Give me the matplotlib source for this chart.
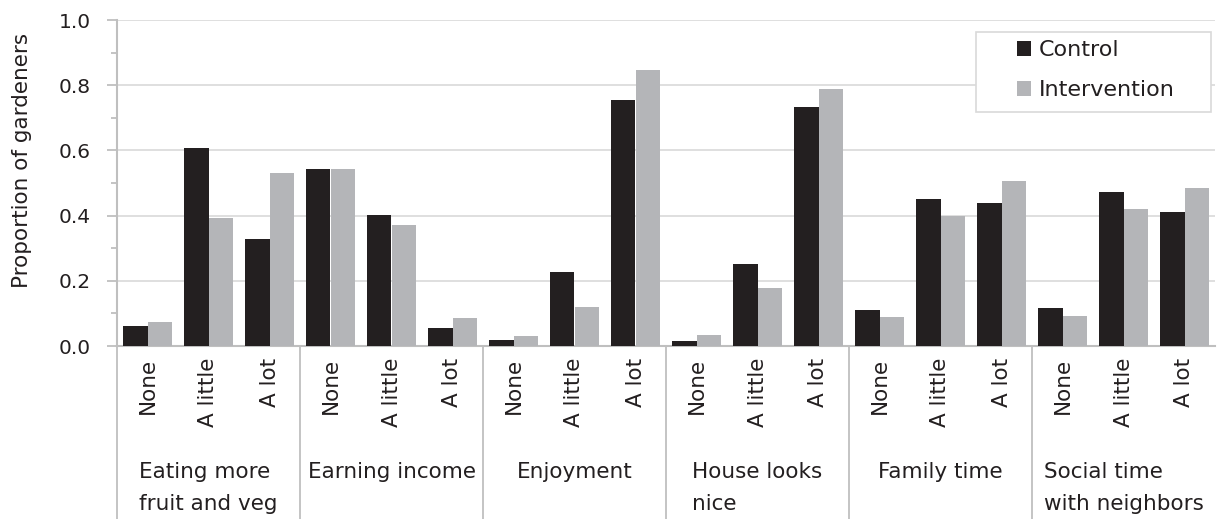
import numpy as np
import matplotlib.pyplot as plt
from matplotlib.ticker import MultipleLocator
from matplotlib.patches import Rectangle

plt.rcParams['font.family'] = ['DejaVu Sans']

groups = ["Eating more\nfruit and veg", "Earning income", "Enjoyment",
          "House looks\nnice", "Family time", "Social time\nwith neighbors"]
levels = ["None", "A little", "A lot"]

control = [0.061, 0.607, 0.328,
           0.542, 0.403, 0.054,
           0.018, 0.226, 0.755,
           0.015, 0.252, 0.733,
           0.110, 0.450, 0.438,
           0.117, 0.472, 0.410]
intervention = [0.074, 0.393, 0.531,
                0.542, 0.372, 0.085,
                0.032, 0.120, 0.848,
                0.033, 0.178, 0.787,
                0.090, 0.400, 0.505,
                0.093, 0.420, 0.485]

dark = "#231f20"
light = "#b4b5b8"
axis_grey = "#bfbfbf"
txt = "#231f20"

W, H = 1218, 519
fig = plt.figure(figsize=(W / 100, H / 100), dpi=100)
ax = fig.add_axes([117 / W, 173 / H, 1098 / W, 326 / H])

x = np.arange(len(control))
w = 0.40
ax.bar(x - w / 2, control, w, color=dark, label="Control", zorder=3)
ax.bar(x + w / 2, intervention, w, color=light, label="Intervention", zorder=3)

ax.set_xlim(-0.5, len(control) - 0.5)
ax.set_ylim(0, 1.0)
ax.yaxis.set_major_locator(MultipleLocator(0.2))
ax.yaxis.set_minor_locator(MultipleLocator(0.1))
ax.yaxis.set_major_formatter(plt.FuncFormatter(lambda v, p: f"{v:.1f}"))
ax.grid(axis='y', color="#d9d9d9", linewidth=1.2, zorder=0)
ax.tick_params(axis='y', which='major', direction='out', length=7,
               color=axis_grey, width=1.3, labelsize=14.5, pad=12, labelcolor=txt)
ax.tick_params(axis='y', which='minor', direction='out', length=4.5,
               color=axis_grey, width=1.3)
ax.set_xticks([])
for s in ['top', 'right']:
    ax.spines[s].set_visible(False)
for s in ['left', 'bottom']:
    ax.spines[s].set_color(axis_grey)
    ax.spines[s].set_linewidth(1.5)

ax.set_ylabel("Proportion of gardeners", fontsize=15.5, color=txt)
ax.yaxis.set_label_coords(-0.077, 0.57)

trans = ax.get_xaxis_transform()
for i in range(len(control)):
    ax.text(i, -0.036, levels[i % 3], rotation=90, ha='center', va='top',
            fontsize=15.5, color=txt, transform=trans)

for g, name in enumerate(groups):
    left = g * 3 - 0.5
    ax.plot([left, left], [0, -0.6], color=axis_grey, linewidth=1.3,
            transform=trans, clip_on=False)
    ax.text(g * 3 + 1, -0.356, name, ha='center', va='top', multialignment='left',
            fontsize=15.5, color=txt, linespacing=1.75, transform=trans)

# legend frame as a separate box, legend entries drawn on top
box = Rectangle((976 / W, 1 - 112 / H), 235 / W, 80 / H,
                transform=fig.transFigure, facecolor='white',
                edgecolor="#d9d9d9", linewidth=1.2, zorder=4)
ax.add_patch(box)
leg = ax.legend(loc='upper left', bbox_to_anchor=(1017 / W, 1 - 40 / H),
                bbox_transform=fig.transFigure, fontsize=16, frameon=False,
                handlelength=0.65, handleheight=0.65, handletextpad=0.35,
                borderpad=0, borderaxespad=0, labelspacing=0.92)
for t in leg.get_texts():
    t.set_color(txt)
leg.set_zorder(5)

fig.savefig("out.png", dpi=100)
